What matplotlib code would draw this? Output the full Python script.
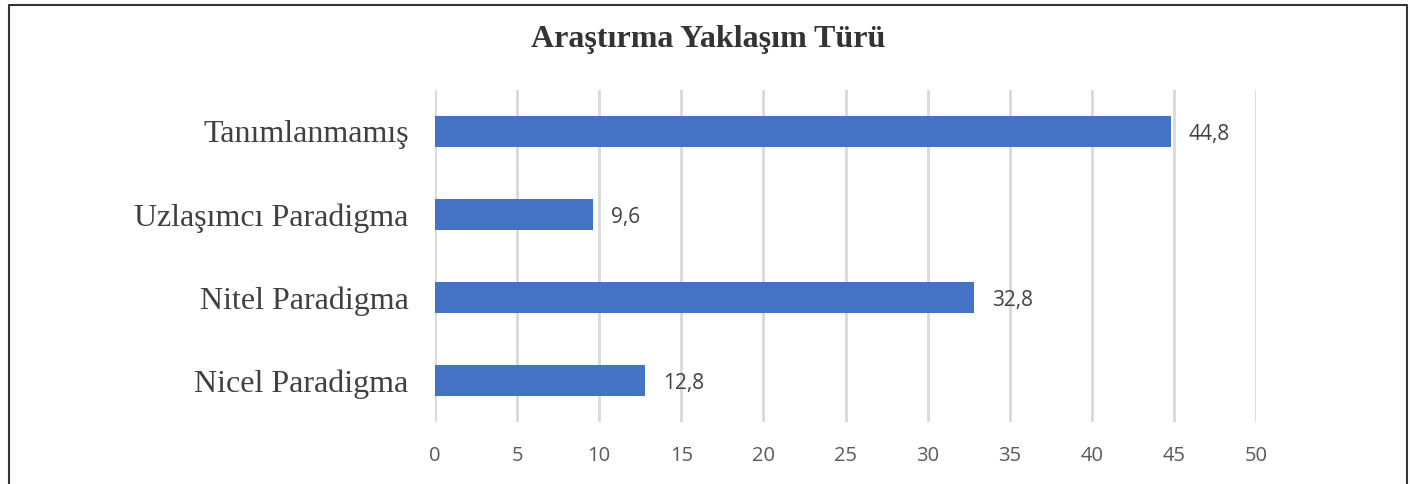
import matplotlib.pyplot as plt
from matplotlib.lines import Line2D

categories = ["Nicel Paradigma", "Nitel Paradigma", "Uzlaşımcı Paradigma", "Tanımlanmamış"]
values = [12.8, 32.8, 9.6, 44.8]
value_labels = ["12,8", "32,8", "9,6", "44,8"]
xticks = [0, 5, 10, 15, 20, 25, 30, 35, 40, 45, 50]

fig = plt.figure(figsize=(14.1, 4.84), dpi=100)
ax = fig.add_axes([435 / 1410, 1 - 422 / 484, (1256 - 435) / 1410, (422 - 90) / 484])

pos = range(len(categories))
ax.barh(pos, values, height=0.37, color="#4472C4", zorder=3)

for p, v, lab in zip(pos, values, value_labels):
    ax.text(v + 1.1, p - 0.04, lab, va="center", ha="left", fontsize=15,
            color="#404040", family="Open Sans")

ax.set_xlim(0, 50)
ax.set_ylim(-0.5, 3.5)
ax.set_xticks(xticks)
ax.set_xticklabels([str(t) for t in xticks], family="Open Sans", fontsize=14.5, color="#595959")
ax.set_yticks(list(pos))
ax.set_yticklabels(categories, family="Liberation Serif", fontsize=23, color="#404040")
ax.tick_params(axis="both", length=0)
ax.tick_params(axis="x", pad=17)
ax.tick_params(axis="y", pad=19)
ax.grid(axis="x", color="#d9d9d9", linewidth=2, zorder=0)
for s in ax.spines.values():
    s.set_visible(False)

fig.text(708 / 1410, 1 - 40 / 484, "Araştırma Yaklaşım Türü", ha="center", va="center",
         family="Liberation Serif", fontweight="bold", fontsize=23, color="#333333")

# frame around the chart (no bottom edge)
x0, x1, y1 = 8.5 / 1410, 1407 / 1410, 1 - 4.5 / 484
fig.add_artist(Line2D([x0, x0, x1, x1], [0, y1, y1, 0], transform=fig.transFigure,
                      color="#333333", linewidth=1.5))

fig.savefig("out.png", dpi=100)
